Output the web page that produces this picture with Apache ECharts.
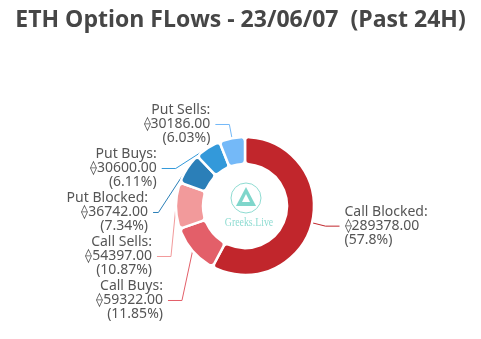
<!DOCTYPE html>
<html>
<head>
<meta charset="utf-8">
<script src="https://cdn.jsdelivr.net/npm/echarts@6/dist/echarts.min.js"></script>
<style>
  html, body { margin: 0; padding: 0; background: #fff; }
  #chart { width: 481px; height: 339px; }
</style>
</head>
<body>
<div id="chart"></div>
<script>
// ETH option flows over the past 24 hours, split by side and type
const categories = ['Call Blocked', 'Call Buys', 'Call Sells', 'Put Blocked', 'Put Buys', 'Put Sells'];
const volumes = [289378.00, 59322.00, 54397.00, 36742.00, 30600.00, 30186.00];
const sliceColors = ['#c1262c', '#e35f69', '#f29a9b', '#2b7fb8', '#3399da', '#74b9f8'];

const chart = echarts.init(document.getElementById('chart'));

const data = categories.map((name, i) => ({
  name: name,
  value: volumes[i],
  itemStyle: { color: sliceColors[i] },
  labelLine: { lineStyle: { color: sliceColors[i] } }
}));

// Watermark logo in the donut hole
const logoColor = '#8fdcd2';
const watermark = [
  { type: 'circle', x: 246, y: 198, silent: true, z: 100, shape: { cx: 0, cy: 0, r: 15 }, style: { fill: 'none', stroke: logoColor, lineWidth: 1 } },
  { type: 'polygon', x: 246, y: 198, silent: true, z: 100, shape: { points: [[0, -11], [10, 8], [-10, 8]] }, style: { fill: '#7fd6cb' } },
  { type: 'polygon', x: 246, y: 198, silent: true, z: 100, shape: { points: [[0, -4], [4, 4], [-4, 4]] }, style: { fill: '#ffffff' } },
  { type: 'text', x: 249, y: 217, scaleX: 0.82, silent: true, z: 100, style: { text: 'Greeks.Live', align: 'center', verticalAlign: 'top', font: '12px "Liberation Serif", serif', fill: logoColor } }
];

chart.setOption({
  backgroundColor: '#ffffff',
  title: {
    text: 'ETH Option FLows - 23/06/07  (Past 24H)',
    left: 'center',
    top: 4,
    textStyle: {
      fontFamily: 'Open Sans',
      fontWeight: 'bold',
      fontSize: 23,
      color: '#464646'
    }
  },
  graphic: watermark,
  series: [
    {
      type: 'pie',
      center: [245, 206],
      radius: [42, 69],
      startAngle: 90,
      clockwise: true,
      avoidLabelOverlap: true,
      itemStyle: {
        borderColor: '#ffffff',
        borderWidth: 2.5,
        borderRadius: 4
      },
      label: {
        show: true,
        fontFamily: 'Noto Sans',
        fontSize: 14,
        lineHeight: 14,
        color: '#555555',
        formatter: p => p.name + ':\n\u27e0' + p.value.toFixed(2) + '\n(' + p.percent + '%)'
      },
      labelLine: {
        show: true,
        length: 14,
        length2: 14,
        lineStyle: { width: 1 }
      },
      data: data
    }
  ]
});
</script>
</body>
</html>
